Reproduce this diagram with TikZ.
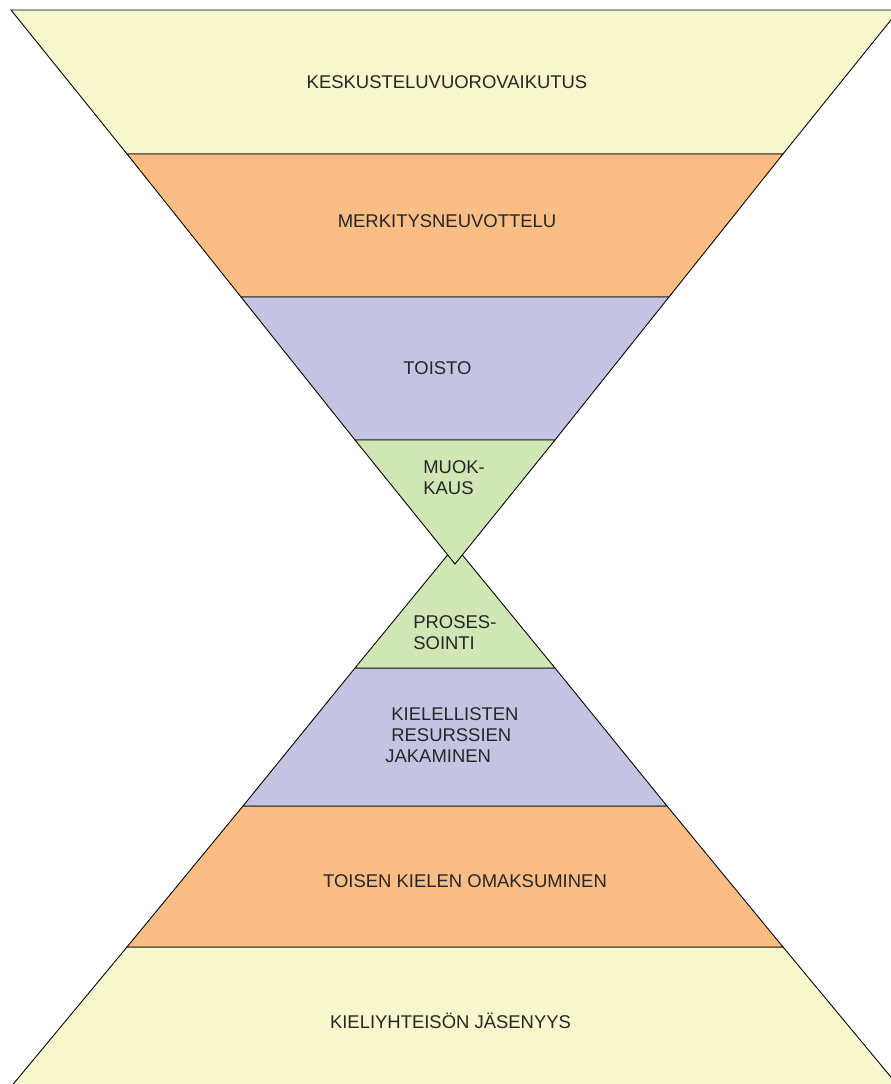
\documentclass[tikz,border=0pt]{standalone}
\usepackage{fontspec}
\setmainfont{Liberation Sans}
\usepackage{tikz}
\definecolor{cYellow}{HTML}{F8F6CC}
\definecolor{cOrange}{HTML}{FABD86}
\definecolor{cViolet}{HTML}{C4C4E2}
\definecolor{cGreen}{HTML}{D1E6B5}
\begin{document}
\begin{tikzpicture}[layer/.style={draw=black, line width=0.5pt, line join=miter},
    lbl/.style={font=\fontsize{10.5}{11.9}\selectfont, text=black!85, inner sep=0pt}]
    		\useasboundingbox (0, 0) rectangle (17.8, 21.68);
    		% Layers, bottom funnel first:
    		\path[layer, fill=cYellow] (0.1, -0.2) -- (2.54, 2.74) -- (15.66, 2.74) -- (18.1, -0.2) -- cycle;
    		\path[layer, fill=cOrange] (2.54, 2.74) -- (4.86, 5.56) -- (13.34, 5.56) -- (15.66, 2.74) -- cycle;
    		\path[layer, fill=cViolet] (4.86, 5.56) -- (7.1, 8.32) -- (11.1, 8.32) -- (13.34, 5.56) -- cycle;
    		\path[layer, fill=cGreen] (7.1, 8.32) -- (9.1, 10.76) -- (11.1, 8.32) -- cycle;
    		\path[layer, fill=cYellow] (0.22, 21.48) -- (17.98, 21.48) -- (15.66, 18.6) -- (2.54, 18.6) -- cycle;
    		\path[layer, fill=cOrange] (2.54, 18.6) -- (15.66, 18.6) -- (13.38, 15.74) -- (4.82, 15.74) -- cycle;
    		\path[layer, fill=cViolet] (4.82, 15.74) -- (13.38, 15.74) -- (11.1, 12.88) -- (7.1, 12.88) -- cycle;
    		\path[layer, fill=cGreen] (7.1, 12.88) -- (11.1, 12.88) -- (9.1, 10.4) -- cycle;
    		% Labels:
    		\node[lbl](N1) at (8.94, 20.04){KESKUSTELUVUOROVAIKUTUS};
    		\node[lbl](N2) at (8.94, 17.26){MERKITYSNEUVOTTELU};
    		\node[lbl](N3) at (8.75, 14.32){TOISTO};
    		\node[lbl, anchor=west, align=left](N4) at (8.46, 12.13){MUOK-\\KAUS};
    		\node[lbl, anchor=west, align=left](N5) at (8.26, 9.03){PROSES-\\SOINTI};
    		\node[lbl, anchor=west, align=left](N6) at (7.70, 6.98){\hspace*{3.4pt}KIELELLISTEN\\\hspace*{3.4pt}RESURSSIEN\\JAKAMINEN};
    		\node[lbl](N7) at (9.30, 4.06){TOISEN KIELEN OMAKSUMINEN};
    		\node[lbl](N8) at (9.01, 1.26){KIELIYHTEISÖN JÄSENYYS};
    	\end{tikzpicture}
\end{document}
